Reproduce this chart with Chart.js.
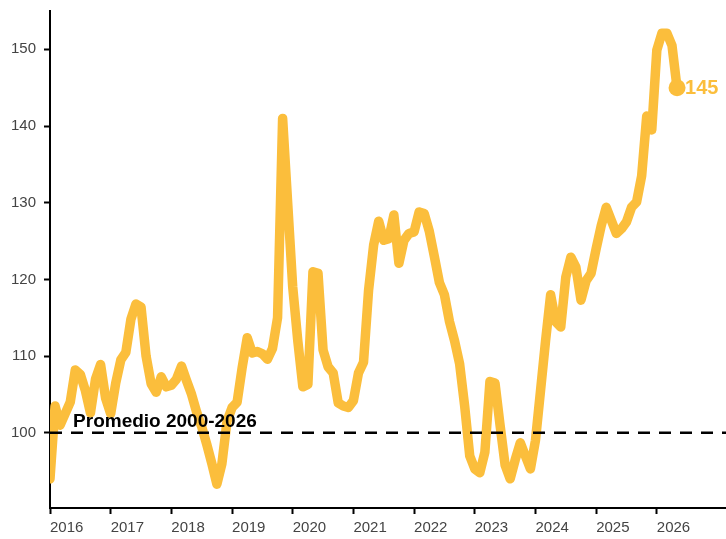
<!DOCTYPE html>
<html>
<head>
<meta charset="utf-8">
<script src="https://cdn.jsdelivr.net/npm/chart.js@4.4.1/dist/chart.umd.min.js"></script>
<style>
  body { margin: 0; background: #fff; }
</style>
</head>
<body>
<canvas id="chart" width="726" height="539"></canvas>
<script>
// monthly index, starting Jan 2016
const startYear = 2016;
const values = [
  94, 103.5, 101, 102.5, 104, 108.2, 107.6, 105.5, 102.6, 107, 108.9, 104.5,
  102.5, 106.5, 109.5, 110.5, 114.8, 116.8, 116.4, 110, 106.4, 105.3, 107.3, 106,
  106.2, 107, 108.7, 106.8, 105, 102.7, 100.8, 98.5, 96, 93.3, 96, 101.5,
  103.3, 104, 108.5, 112.4, 110.4, 110.6, 110.3, 109.6, 111, 115, 141, 130,
  119, 112, 106, 106.3, 121, 120.8, 110.8, 108.6, 107.8, 103.9, 103.5, 103.3,
  104.2, 107.8, 109.2, 118.6, 124.5, 127.6, 125.1, 125.3, 128.4, 122.1, 125.1, 126,
  126.2, 128.8, 128.6, 126.3, 123, 119.6, 118, 114.5, 112, 109, 103.5, 97,
  95.3, 94.8, 97.5, 106.7, 106.5, 101, 95.8, 94, 96.5, 98.7, 97, 95.3,
  99, 105.5, 112, 118, 114.5, 113.8, 120.3, 122.9, 121.6, 117.3, 119.8, 120.8,
  124, 127, 129.4, 127.7, 126, 126.6, 127.5, 129.4, 130.1, 133.5, 141.3, 139.5,
  149.9, 152.1, 152.1, 150.5, 145
];
const yearTicks = [2016, 2017, 2018, 2019, 2020, 2021, 2022, 2023, 2024, 2025, 2026];
const valueTicks = [100, 110, 120, 130, 140, 150];
const average = 100;
const averageLabel = 'Promedio 2000-2026';

const xMin = 2016, xMax = 2027.14;
const lineColor = '#FBBE3C';

const points = values.map((v, i) => ({ x: startYear + i / 12, y: v }));
const lastIdx = values.length - 1;

// drop the automatic label overflow padding so the plot fills the canvas
function noPad(axis) {
  axis.paddingLeft = 0;
  axis.paddingRight = 0;
  axis.paddingTop = 0;
  axis.paddingBottom = 0;
}

const labelsPlugin = {
  id: 'labels',
  afterDatasetsDraw(chart) {
    const ctx = chart.ctx;
    const x = chart.scales.x, y = chart.scales.y;
    ctx.save();
    // average label
    ctx.font = 'bold 19px "Liberation Sans", Arial, sans-serif';
    ctx.fillStyle = '#000';
    ctx.textAlign = 'left';
    ctx.textBaseline = 'alphabetic';
    ctx.fillText(averageLabel, x.getPixelForValue(2016.38), y.getPixelForValue(average) - 6);
    // last value label
    const last = points[lastIdx];
    ctx.font = 'bold 20px "Liberation Sans", Arial, sans-serif';
    ctx.fillStyle = lineColor;
    ctx.textBaseline = 'middle';
    ctx.fillText(Math.round(last.y), x.getPixelForValue(last.x) + 8, y.getPixelForValue(last.y) + 1);
    ctx.restore();
  }
};

new Chart(document.getElementById('chart'), {
  type: 'line',
  data: {
    datasets: [{
      data: [{ x: xMin, y: average }, { x: xMax, y: average }],
      borderColor: '#000',
      borderWidth: 2.5,
      borderDash: [12, 9],
      pointRadius: 0,
      fill: false
    }, {
      data: points,
      borderColor: lineColor,
      backgroundColor: lineColor,
      borderWidth: 9.5,
      borderJoinStyle: 'round',
      borderCapStyle: 'round',
      tension: 0,
      pointRadius: values.map((v, i) => i === lastIdx ? 8.5 : 0),
      pointBorderWidth: 0,
      fill: false
    }]
  },
  options: {
    responsive: false,
    animation: false,
    layout: { autoPadding: false, padding: { top: 11, left: 0, right: 0, bottom: 0 } },
    plugins: { legend: { display: false }, tooltip: { enabled: false } },
    scales: {
      x: {
        type: 'linear',
        min: xMin,
        max: xMax,
        afterBuildTicks: axis => { axis.ticks = yearTicks.map(v => ({ value: v })); },
        afterFit: axis => { axis.height = 31; noPad(axis); },
        grid: { drawOnChartArea: false, drawTicks: true, tickLength: 6, tickColor: '#000', tickWidth: 2 },
        border: { color: '#000', width: 2 },
        ticks: {
          align: 'start',
          padding: 5,
          color: '#444',
          font: { family: '"Liberation Sans", Arial, sans-serif', size: 15 },
          callback: v => String(v)
        }
      },
      y: {
        min: 90.2,
        max: 155,
        afterBuildTicks: axis => { axis.ticks = valueTicks.map(v => ({ value: v })); },
        afterFit: axis => { axis.width = 50; noPad(axis); },
        grid: { drawOnChartArea: false, drawTicks: true, tickLength: 6, tickColor: '#000', tickWidth: 2 },
        border: { color: '#000', width: 2 },
        ticks: {
          padding: 8,
          color: '#444',
          font: { family: '"Liberation Sans", Arial, sans-serif', size: 15 }
        }
      }
    }
  },
  plugins: [labelsPlugin]
});
</script>
</body>
</html>
